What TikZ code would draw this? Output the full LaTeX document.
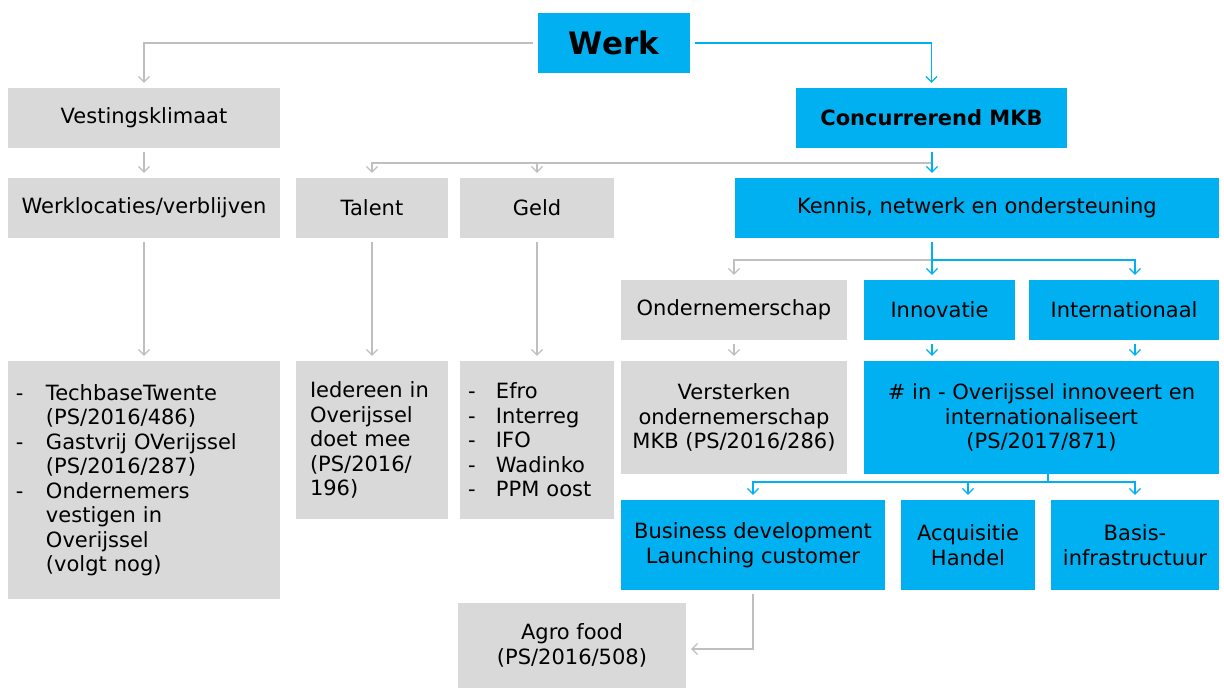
\documentclass[tikz,border=0pt]{standalone}
\usepackage{fontspec}
\setmainfont{DejaVu Sans}
\usetikzlibrary{arrows.meta}
\definecolor{cblue}{HTML}{00B0F0}
\definecolor{cgray}{HTML}{D9D9D9}
\definecolor{lgray}{HTML}{BFBFBF}
\newcommand{\dashitem}[2]{\makebox[#1][l]{-}#2}
\begin{document}
\begin{tikzpicture}[x=1pt,y=-1pt,
  txt/.style={font=\fontsize{21}{24.5}\selectfont, text=black, align=center, inner sep=0pt},
  gbox/.style={txt, fill=cgray},
  bbox/.style={txt, fill=cblue},
  con/.style={line width=1.2pt, -{Straight Barb[length=5.5pt,width=11pt]}, shorten >=5pt},
  gline/.style={con, draw=lgray},
  bline/.style={con, draw=cblue},
  bplain/.style={line width=1.2pt, draw=cblue}
]
\useasboundingbox (0,0) rectangle (1224,688);

% nodes
\node[bbox, minimum width=152pt, minimum height=60pt, font=\fontsize{31}{36}\selectfont\bfseries] (werk) at (614,43) {Werk};
\node[gbox, minimum width=272pt, minimum height=60pt] (vest) at (144,118) {Vestingsklimaat};
\node[bbox, minimum width=271pt, minimum height=60pt, font=\fontsize{21}{24.5}\selectfont\bfseries] (mkb) at (931.5,118) {Concurrerend MKB};
\node[gbox, minimum width=272pt, minimum height=60pt] (werkl) at (144,208) {Werklocaties/verblijven};
\node[gbox, minimum width=152pt, minimum height=60pt] (talent) at (372,208) {Talent};
\node[gbox, minimum width=154pt, minimum height=60pt] (geld) at (537,208) {Geld};
\node[bbox, minimum width=484pt, minimum height=60pt] (kennis) at (977,208) {Kennis, netwerk en ondersteuning};
\node[gbox, minimum width=226pt, minimum height=60pt] (onder) at (734,310) {Ondernemerschap};
\node[bbox, minimum width=151pt, minimum height=60pt] (innov) at (939.5,310) {Innovatie};
\node[bbox, minimum width=190pt, minimum height=60pt] (intl) at (1124,310) {Internationaal};
\node[gbox, minimum width=226pt, minimum height=113pt] (verst) at (734,417.5) {Versterken\\ondernemerschap\\MKB (PS/2016/286)};
\node[bbox, minimum width=355pt, minimum height=113pt] (inn2) at (1041.5,417.5) {\# in - Overijssel innoveert en\\internationaliseert\\(PS/2017/871)};
\node[gbox, text width=256pt, inner xsep=8pt, minimum height=238pt, align=left] (list1) at (144,480) {%
  \dashitem{30pt}{TechbaseTwente}\\
  \hspace*{30pt}(PS/2016/486)\\
  \dashitem{30pt}{Gastvrij OVerijssel}\\
  \hspace*{30pt}(PS/2016/287)\\
  \dashitem{30pt}{Ondernemers}\\
  \hspace*{30pt}vestigen in\\
  \hspace*{30pt}Overijssel\\
  \hspace*{30pt}(volgt nog)};
\node[gbox, text width=124pt, inner xsep=14pt, minimum height=158pt, align=left] (ieder) at (372,440) {Iedereen in\\Overijssel\\doet mee\\(PS/2016/\\196)};
\node[gbox, text width=138pt, inner xsep=8pt, minimum height=158pt, align=left] (efro) at (537,440) {%
  \dashitem{28pt}{Efro}\\
  \dashitem{28pt}{Interreg}\\
  \dashitem{28pt}{IFO}\\
  \dashitem{28pt}{Wadinko}\\
  \dashitem{28pt}{PPM oost}};
\node[bbox, minimum width=264pt, minimum height=90pt] (bus) at (753,545) {Business development\\Launching customer};
\node[bbox, minimum width=134pt, minimum height=90pt] (acq) at (968,545) {Acquisitie\\Handel};
\node[bbox, minimum width=168pt, minimum height=90pt] (basis) at (1135,545) {Basis-\\infrastructuur};
\node[gbox, minimum width=228pt, minimum height=85pt] (agro) at (572,645.5) {Agro food\\(PS/2016/508)};

% junctions
\coordinate (j1) at (932,163);
\coordinate (j2) at (932,260);
\coordinate (j3) at (1048,482);

% connectors
\draw[gline, shorten <=5pt] (werk.west) -| (vest.north);
\draw[bline, shorten <=5pt] (werk.east) -| (mkb.north);
\draw[gline, shorten <=4pt] (vest) -- (werkl);
\draw[gline, shorten <=4pt] (werkl) -- (list1);
\draw[gline, shorten <=4pt] (talent) -- (ieder);
\draw[gline, shorten <=4pt] (geld) -- (efro);
\draw[gline] (j1) -| (talent.north);
\draw[gline] (j1 -| geld.north) -- (geld.north);
\draw[bline, shorten <=4pt] (j1 |- mkb.south) -- (j1 |- kennis.north);
\draw[gline] (j2) -| (onder.north);
\draw[bline] (j2) -| (basis |- intl.north);
\draw[bline, shorten <=4pt] (j1 |- kennis.south) -- (j1 |- innov.north);
\draw[gline, shorten <=4pt] (onder) -- (verst);
\draw[bline, shorten <=4pt] (j1 |- innov.south) -- (j1 |- inn2.north);
\draw[bline, shorten <=4pt] (basis |- intl.south) -- (basis |- inn2.north);
\draw[bplain] (j3 |- inn2.south) -- (j3);
\draw[bline] (j3) -| (bus.north);
\draw[bline] (j3) -| (basis.north);
\draw[bline] (acq.north |- j3) -- (acq.north);
\draw[gline, shorten <=4pt] (bus.south) |- ([yshift=-3.5pt]agro.east);
\end{tikzpicture}
\end{document}
